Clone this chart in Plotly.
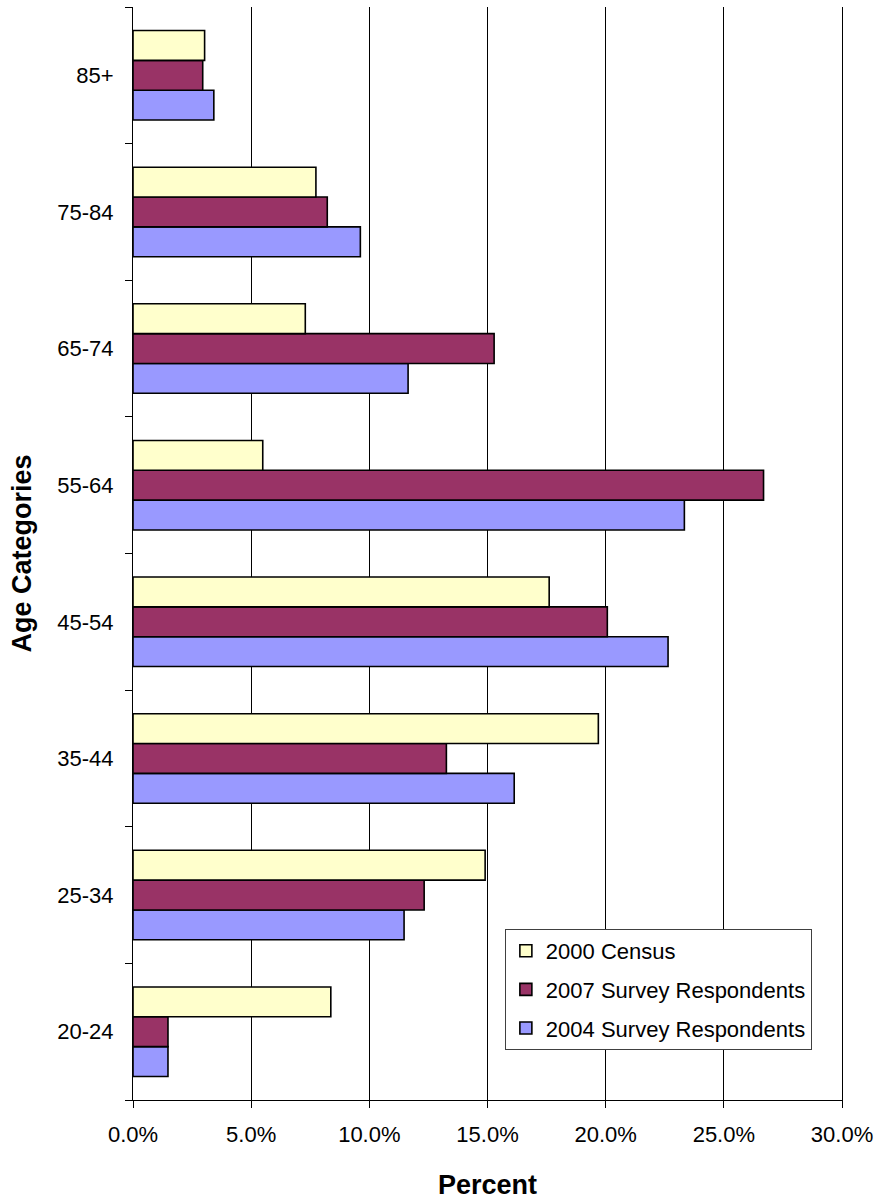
import plotly.graph_objects as go

categories = ["20-24", "25-34", "35-44", "45-54", "55-64", "65-74", "75-84", "85+"]
census_2000 = [8.37, 14.90, 19.69, 17.61, 5.49, 7.29, 7.74, 3.03]
survey_2007 = [1.48, 12.32, 13.26, 20.07, 26.68, 15.28, 8.22, 2.95]
survey_2004 = [1.48, 11.47, 16.13, 22.64, 23.33, 11.64, 9.62, 3.42]
x_ticks = [0, 5, 10, 15, 20, 25, 30]
x_tick_labels = ["0.0%", "5.0%", "10.0%", "15.0%", "20.0%", "25.0%", "30.0%"]

FONT = "Arial, Liberation Sans, sans-serif"

fig = go.Figure()
series = [
    ("2004 Survey Respondents", survey_2004, "#9999FF", 3),
    ("2007 Survey Respondents", survey_2007, "#993366", 2),
    ("2000 Census", census_2000, "#FFFFCC", 1),
]
for name, vals, col, rank in series:
    fig.add_trace(go.Bar(
        y=categories, x=vals, name=name, orientation="h",
        legendgroup=name, legendrank=rank,
        marker=dict(color=col, line=dict(color="black", width=1.6)),
    ))

fig.update_layout(
    width=877, height=1200,
    margin=dict(l=133, r=35, t=7, b=100),
    paper_bgcolor="white", plot_bgcolor="white",
    barmode="group", bargap=0.345, bargroupgap=0,
    font=dict(family=FONT, color="black", size=22),
    legend=dict(
        x=0.5245, y=0.1565, xanchor="left", yanchor="top",
        traceorder="grouped",
        bordercolor="#404040", borderwidth=1, bgcolor="white",
        font=dict(family=FONT, size=22, color="black"),
        tracegroupgap=7,
    ),
    showlegend=True,
)
fig.update_xaxes(
    range=[0, 30], tickvals=x_ticks, ticktext=x_tick_labels,
    showgrid=True, gridcolor="black", gridwidth=1,
    showline=True, linecolor="black", linewidth=1,
    ticks="outside", ticklen=7, tickcolor="black",
    tickfont=dict(family=FONT, size=22, color="black"),
    ticklabelstandoff=8,
    zeroline=False, automargin=False,
    title=dict(text="<b>Percent</b>", font=dict(family=FONT, size=27, color="black"), standoff=29),
)
fig.update_yaxes(
    categoryorder="array", categoryarray=categories,
    showgrid=False, showline=True, linecolor="black", linewidth=1, mirror=True,
    ticks="outside", ticklen=7, tickcolor="black", tickson="boundaries",
    tickfont=dict(family=FONT, size=22, color="black"),
    ticklabelstandoff=14, automargin=False,
    title=dict(text="<b>Age Categories</b>", font=dict(family=FONT, size=27, color="black"), standoff=17),
)

fig.write_html(
    "out.html",
    config={"displayModeBar": False},
    post_script="document.body.style.margin='0';document.body.style.padding='0';",
)
